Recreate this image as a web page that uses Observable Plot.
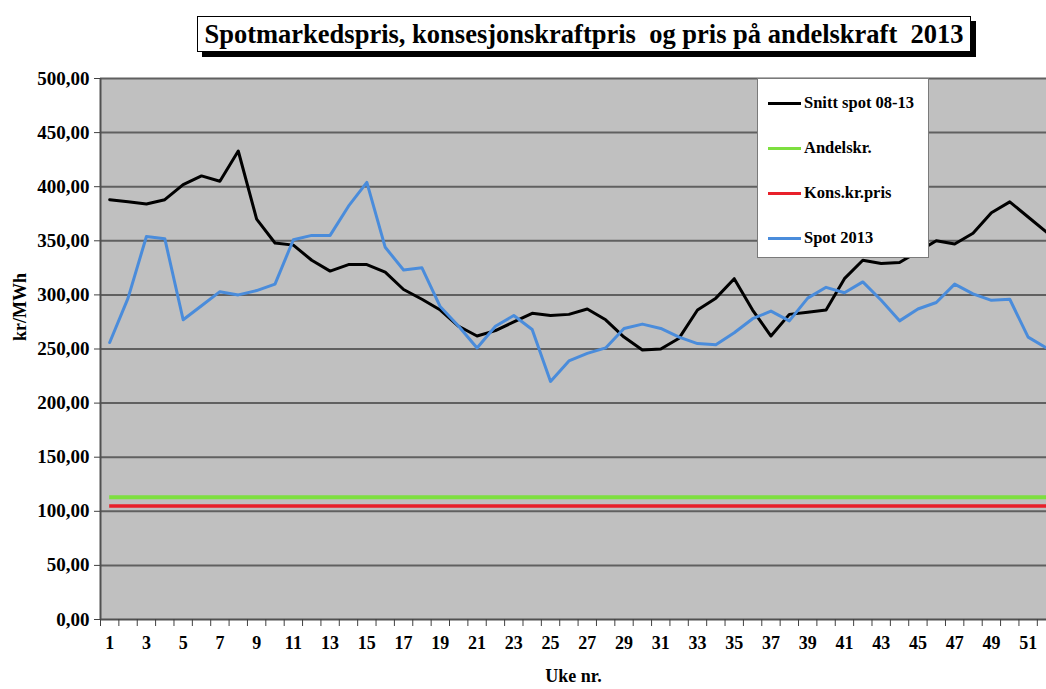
<!DOCTYPE html>
<html><head><meta charset="utf-8">
<script src="https://cdn.jsdelivr.net/npm/d3@7"></script>
<script src="https://cdn.jsdelivr.net/npm/@observablehq/plot@0.6"></script>
<style>
body{margin:0;background:#fff;overflow:hidden}
#wrap{position:relative;width:1046px;height:689px}
#title{position:absolute;left:197px;top:16px;width:772px;height:34px;border:1.5px solid #000;box-shadow:5px 5px 0 #000;background:#fff;font-family:'Liberation Serif','Times New Roman',Times,'DejaVu Serif',serif;font-weight:bold;font-size:26.5px;text-align:center;line-height:34px;white-space:pre;color:#000}
#legend{position:absolute;left:757px;top:78px;width:170px;height:178px;background:#fff;border:1px solid #7a7a7a;font-family:'Liberation Serif','Times New Roman',Times,'DejaVu Serif',serif;font-weight:bold;font-size:16.5px;color:#000}
.row{position:absolute;left:10px;height:20px;display:flex;align-items:center}
.sw{display:inline-block;width:33px;height:3px;margin-right:3px}
</style></head>
<body>
<div id="wrap">
  <div id="chart"></div>
  <div id="title">Spotmarkedspris, konsesjonskraftpris  og pris på andelskraft  2013</div>
  <div id="legend"></div>
</div>
<script>
const titleText = "Spotmarkedspris, konsesjonskraftpris  og pris på andelskraft  2013";
const weeks = [1,2,3,4,5,6,7,8,9,10,11,12,13,14,15,16,17,18,19,20,21,22,23,24,25,26,27,28,29,30,31,32,33,34,35,36,37,38,39,40,41,42,43,44,45,46,47,48,49,50,51,52];
const snittSpot = [388,386,384,388,402,410,405,433,370,348,346,332,322,328,328,321,305,296,286,271,262,267,275,283,281,282,287,277,261,249,250,260,286,297,315,286,262,282,284,286,315,332,329,330,340,350,347,357,376,386,372,358];
const spot2013 = [256,297,354,352,277,290,303,300,304,310,351,355,355,382,404,344,323,325,289,271,251,271,281,268,220,239,246,251,269,273,269,261,255,254,265,278,285,276,297,307,302,312,295,276,287,293,310,301,295,296,261,251];
const andelskr = 113;
const konsKrPris = 105;
const yTicks = [0,50,100,150,200,250,300,350,400,450,500];
const xTickLabels = [1,3,5,7,9,11,13,15,17,19,21,23,25,27,29,31,33,35,37,39,41,43,45,47,49,51];
const legendLabels = ["Snitt spot 08-13","Andelskr.","Kons.kr.pris","Spot 2013"];
const legendColors = ["#000000","#7ddf3f","#e8202a","#4a8cdb"];
const yLabel = "kr/MWh";
const xLabel = "Uke nr.";

const boundaries = weeks.map(w => w - 0.5);
const fontFam = "'Liberation Serif','Times New Roman',Times,'DejaVu Serif',serif";

const chart = Plot.plot({
  width: 1046, height: 689,
  marginLeft: 100, marginRight: 0, marginTop: 78, marginBottom: 70,
  style: {fontFamily: fontFam, fontWeight: "bold", color: "#000", background: "transparent", fontSize: "17px"},
  x: {type: "linear", domain: [0.5, 52]},
  y: {domain: [0, 500]},
  marks: [
    Plot.frame({fill: "#c0c0c0", stroke: null}),
    Plot.ruleY(yTicks.filter(v => v > 0), {stroke: "#606060", strokeWidth: 2}),
    Plot.ruleY([0], {stroke: "#505050", strokeWidth: 2}),
    Plot.ruleX([0.5], {stroke: "#505050", strokeWidth: 2}),
    Plot.axisY({ticks: yTicks, tickFormat: d => d.toFixed(2).replace(".", ","), tickSize: 6, tickPadding: 5, fontSize: 19, fontFamily: fontFam, label: null, stroke: "#404040"}),
    Plot.axisX({ticks: boundaries, tickFormat: () => "", tickSize: 7, label: null, stroke: "#404040"}),
    Plot.axisX({ticks: xTickLabels, tickSize: 0, tickPadding: 17, fontSize: 18, fontFamily: fontFam, label: null}),
    Plot.ruleY([andelskr], {x1: 1, x2: 52, stroke: legendColors[1], strokeWidth: 4}),
    Plot.ruleY([konsKrPris], {x1: 1, x2: 52, stroke: legendColors[2], strokeWidth: 3.5}),
    Plot.line(snittSpot, {x: (d, i) => weeks[i], y: d => d, stroke: legendColors[0], strokeWidth: 3}),
    Plot.line(spot2013, {x: (d, i) => weeks[i], y: d => d, stroke: legendColors[3], strokeWidth: 3}),
    Plot.text([yLabel], {frameAnchor: "left", dx: -80, dy: -8, rotate: -90, fontSize: 18, fontFamily: fontFam, fontWeight: "bold", fill: "#000"}),
    Plot.text([xLabel], {frameAnchor: "bottom", dy: 62, fontSize: 18, fontFamily: fontFam, fontWeight: "bold", fill: "#000"})
  ]
});
document.getElementById("chart").appendChild(chart);

const leg = document.getElementById("legend");
legendLabels.forEach((lab, i) => {
  const r = document.createElement("div");
  r.className = "row";
  r.style.top = (14 + i * 45) + "px";
  const s = document.createElement("span");
  s.className = "sw";
  s.style.background = legendColors[i];
  r.appendChild(s);
  const t = document.createElement("span");
  t.textContent = lab;
  r.appendChild(t);
  leg.appendChild(r);
});
</script>
</body></html>
